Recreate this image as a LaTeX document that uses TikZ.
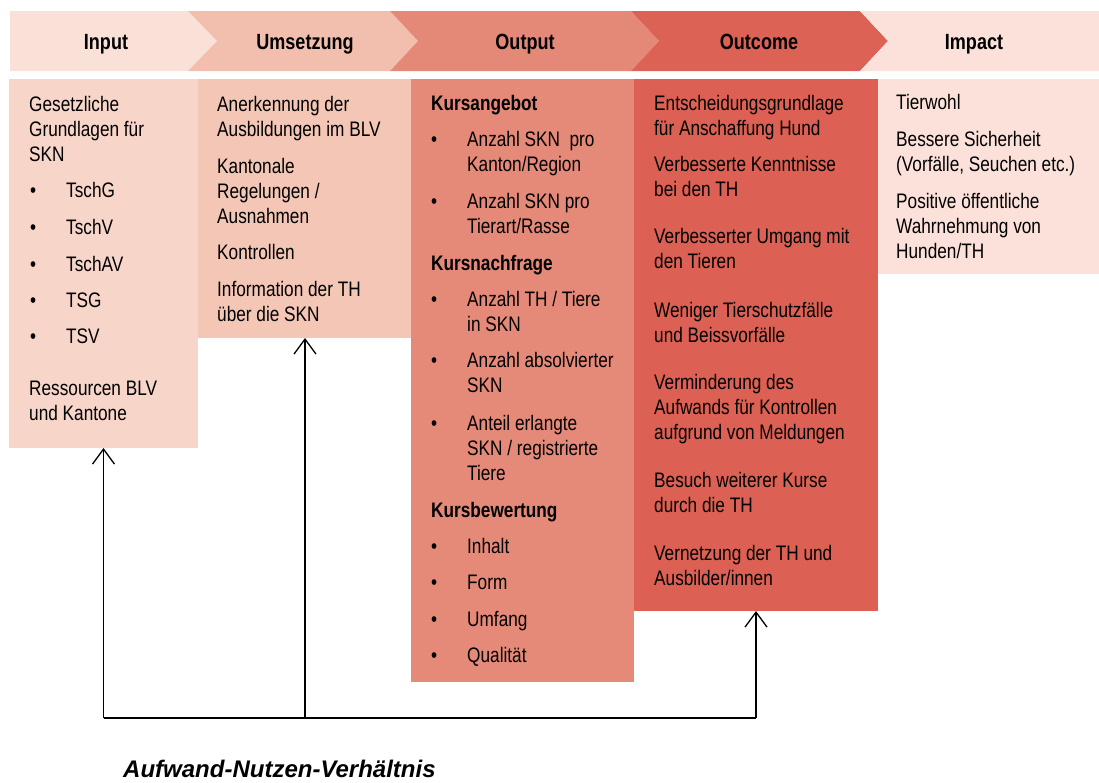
\documentclass[tikz,border=0pt]{standalone}
\usepackage{fontspec}
\setmainfont[FakeStretch=0.82]{Liberation Sans}
\newfontfamily\capfont{Liberation Sans}
\usetikzlibrary{arrows.meta}
\definecolor{hIn}{HTML}{FAE1D8}
\definecolor{hUm}{HTML}{F2BFAE}
\definecolor{hOut}{HTML}{E48878}
\definecolor{hOc}{HTML}{DD6256}
\definecolor{hIm}{HTML}{FBE1D9}
\definecolor{bIn}{HTML}{F7D5C9}
\definecolor{bUm}{HTML}{F3C6B6}
\definecolor{bOut}{HTML}{E58979}
\definecolor{bOc}{HTML}{DC6154}
\definecolor{bIm}{HTML}{FBE1D9}
\tikzset{
  body/.style={anchor=north west, inner sep=0, outer sep=0, draw=none},
  txt/.style={anchor=base west, inner sep=0, font=\fontsize{21}{25}\selectfont},
  bul/.style={anchor=base west, inner sep=0, font=\fontsize{21}{25}\selectfont},
  head/.style={anchor=base, inner sep=0, font=\fontsize{22}{26}\selectfont\bfseries},
  conn/.style={line width=1.5pt, draw=black},
  arr/.style={conn, -{Straight Barb[length=15pt,width=22pt,line width=1.3pt]}}
}
\newcommand\para[4]{%
  \foreach \t [count=\i from 0] in {#4} {\node[txt] (#1-\i) at (#2,{#3+25*\i}) {\t};}}
\newcommand\bitem[5]{%
  \node[bul] (#1-b) at (#2,#4) {•};
  \para{#1}{#3}{#4}{#5}}
\begin{document}
\begin{tikzpicture}[x=1pt,y=-1pt]
\useasboundingbox (0,0) rectangle (1099,782);
% header chevrons
\fill[hIn] (10,11) -- (188,11) -- (217,41) -- (188,71) -- (10,71) -- cycle;
\fill[hUm] (188,11) -- (390,11) -- (418,41) -- (390,71) -- (188,71) -- (217,41) -- cycle;
\fill[hOut] (390,11) -- (631,11) -- (659,41) -- (631,71) -- (390,71) -- (418,41) -- cycle;
\fill[hOc] (631,11) -- (860,11) -- (888,41) -- (860,71) -- (631,71) -- (659,41) -- cycle;
\fill[hIm] (860,11) -- (1099,11) -- (1099,71) -- (860,71) -- (888,41) -- cycle;
\node[head] (hInput) at (106,49) {Input};
\node[head] (hUmsetzung) at (305,49) {Umsetzung};
\node[head] (hOutput) at (525,49) {Output};
\node[head] (hOutcome) at (759,49) {Outcome};
\node[head] (hImpact) at (974,49) {Impact};
% body boxes
\node[body, fill=bIn, minimum width=189pt, minimum height=369pt] (inbox) at (9,79) {};
\node[body, fill=bUm, minimum width=214pt, minimum height=259pt] (umbox) at (198,79) {};
\node[body, fill=bOut, minimum width=223pt, minimum height=603pt] (outbox) at (411,79) {};
\node[body, fill=bOc, minimum width=244pt, minimum height=532pt] (ocbox) at (634,79) {};
\node[body, fill=bIm, minimum width=221pt, minimum height=195pt] (imbox) at (878,79) {};
% Input text
\para{in1}{29}{111}{Gesetzliche,Grundlagen für,SKN}
\bitem{in2}{30}{66}{197}{TschG}
\bitem{in3}{30}{66}{234}{TschV}
\bitem{in4}{30}{66}{271}{TschAV}
\bitem{in5}{30}{66}{307}{TSG}
\bitem{in6}{30}{66}{343}{TSV}
\para{in7}{29}{395}{Ressourcen BLV,und Kantone}
% Umsetzung text
\para{um1}{217}{111}{Anerkennung der,Ausbildungen im BLV}
\para{um2}{217}{173}{Kantonale,Regelungen /,Ausnahmen}
\para{um3}{217}{259}{Kontrollen}
\para{um4}{217}{296}{Information der TH,über die SKN}
% Output text
\node[txt, font=\fontsize{21}{25}\selectfont\bfseries] (ou1) at (431,110) {Kursangebot};
\bitem{ou2}{431}{467}{146}{Anzahl SKN\ \ pro,Kanton/Region}
\bitem{ou3}{431}{467}{208}{Anzahl SKN pro,Tierart/Rasse}
\node[txt, font=\fontsize{21}{25}\selectfont\bfseries] (ou4) at (431,270) {Kursnachfrage};
\bitem{ou5}{431}{467}{306}{Anzahl TH / Tiere,in SKN}
\bitem{ou6}{431}{467}{367}{Anzahl absolvierter,SKN}
\bitem{ou7}{431}{467}{430}{Anteil erlangte,SKN / registrierte,Tiere}
\node[txt, font=\fontsize{21}{25}\selectfont\bfseries] (ou8) at (431,517) {Kursbewertung};
\bitem{ou9}{431}{467}{553}{Inhalt}
\bitem{ou10}{431}{467}{589}{Form}
\bitem{ou11}{431}{467}{626}{Umfang}
\bitem{ou12}{431}{467}{662}{Qualität}
% Outcome text
\para{oc1}{654}{110}{Entscheidungsgrundlage,für Anschaffung Hund}
\para{oc2}{654}{171}{Verbesserte Kenntnisse,bei den TH}
\para{oc3}{654}{243}{Verbesserter Umgang mit,den Tieren}
\para{oc4}{654}{317}{Weniger Tierschutzfälle,und Beissvorfälle}
\para{oc5}{654}{389}{Verminderung des,Aufwands für Kontrollen,aufgrund von Meldungen}
\para{oc6}{654}{487}{Besuch weiterer Kurse,durch die TH}
\para{oc7}{654}{560}{Vernetzung der TH und,Ausbilder/innen}
% Impact text
\para{im1}{896}{109}{Tierwohl}
\para{im2}{896}{146}{Bessere Sicherheit,{(Vorfälle, Seuchen etc.)}}
\para{im3}{896}{208}{Positive öffentliche,Wahrnehmung von,Hunden/TH}
% connectors
\coordinate (cl) at (inbox.south |- 0,718);
\coordinate (cm) at (umbox.south |- 0,718);
\coordinate (cr) at (ocbox.south |- 0,718);
\draw[conn] (cl) -- (cr);
\draw[arr] (cl) -- (inbox.south);
\draw[arr] (cm) -- (umbox.south);
\draw[arr] (cr) -- (ocbox.south);
\node[anchor=base west, inner sep=0, font=\capfont\fontsize{24}{28}\selectfont\bfseries\itshape] (cap) at (123,777) {Aufwand-Nutzen-Verhältnis};
\end{tikzpicture}
\end{document}
